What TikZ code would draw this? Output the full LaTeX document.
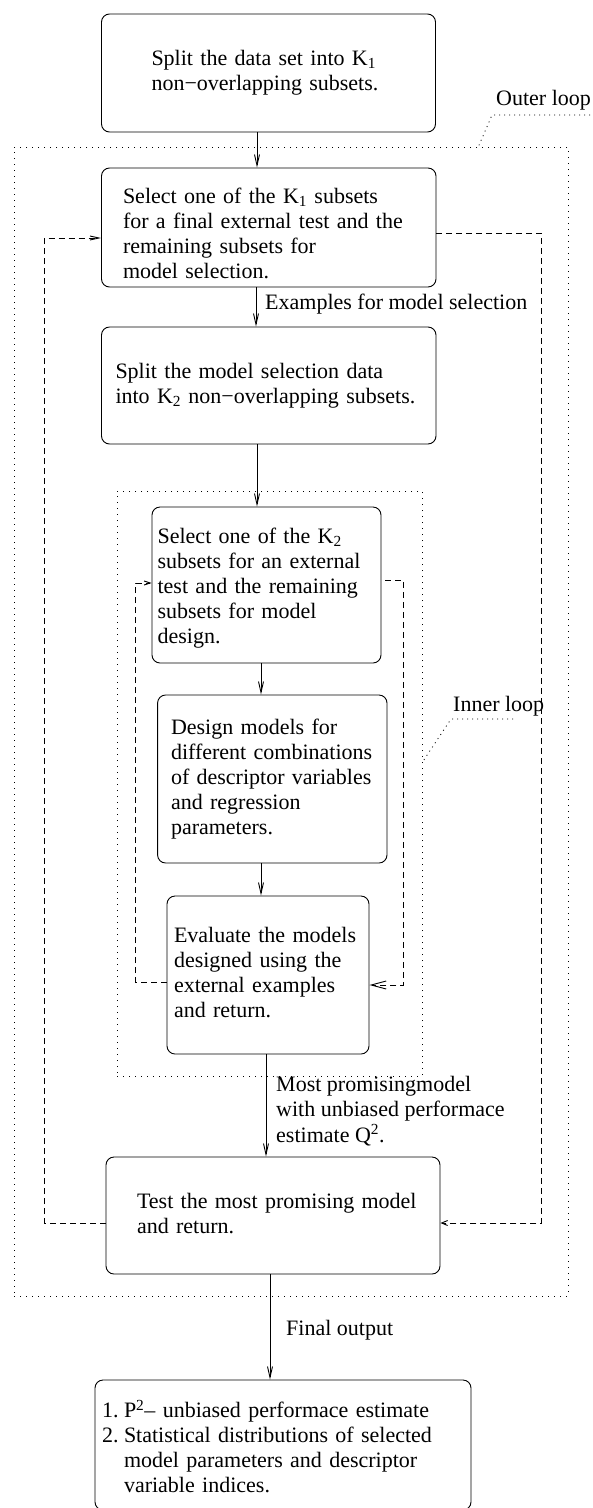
\documentclass[tikz,border=0pt]{standalone}
\usepackage{fontspec}
\setmainfont{Liberation Serif}
\usetikzlibrary{arrows.meta}
% left-aligned block of lines, optionally lowered inside its box without changing its size
\newcommand\boxlines[2][0pt]{\raisebox{-#1}[\height][\depth]{\begin{tabular}{@{}l@{}}#2\end{tabular}}}

\begin{document}
\begin{tikzpicture}[x=1pt,y=-1pt,
  every node/.style={font=\fontsize{22}{25}\selectfont},
  box/.style={draw, line width=0.9pt, rounded corners=8pt, inner sep=0pt, align=left},
  flow/.style={line width=0.9pt, -{Straight Barb[length=11pt,width=5pt]}},
  loopback/.style={line width=0.9pt, dash pattern=on 6pt off 4pt},
  frame/.style={draw, line width=0.9pt, dash pattern=on 1pt off 5pt, inner sep=0pt},
  leader/.style={line width=0.8pt, dash pattern=on 1pt off 4pt},
  lbl/.style={inner sep=0pt, align=left}]

\useasboundingbox (0,0) rectangle (593,1508);

% loop frames
\node[frame, minimum width=554pt, minimum height=1149pt] (outer) at (291,721.5) {};
\node[frame, minimum width=305pt, minimum height=585pt] (inner) at (269.5,783.5) {};

% process boxes
\node[box, minimum width=334pt, minimum height=118pt, text width=234pt] (split1) at (268.5,73)
  {\boxlines{Split the data set into K\textsubscript{1}\\non−overlapping subsets.}};
\node[box, minimum width=334.5pt, minimum height=119pt, text width=291.5pt] (sel1) at (268.75,227.5)
  {\boxlines[8pt]{Select one of the K\textsubscript{1} subsets\\for a final external test and the\\remaining subsets for\\model selection.}};
\node[box, minimum width=334.5pt, minimum height=117pt, text width=306.5pt] (split2) at (268.75,385.5)
  {\boxlines{Split the model selection data\\into K\textsubscript{2} non−overlapping subsets.}};
\node[box, minimum width=229pt, minimum height=156pt, text width=217.8pt] (sel2) at (266.5,585)
  {\boxlines[3pt]{Select one of the K\textsubscript{2}\\subsets for an external\\test and the remaining\\subsets for model\\design.}};
\node[box, minimum width=229.4pt, minimum height=168pt, text width=202.6pt] (design) at (272.3,779)
  {\boxlines{Design models for\\different combinations\\of descriptor variables\\and regression\\parameters.}};
\node[box, minimum width=202pt, minimum height=158pt, text width=188pt] (eval) at (268,975)
  {\boxlines{Evaluate the models\\designed using the\\external examples\\and return.}};
\node[box, minimum width=334pt, minimum height=117pt, text width=272pt] (test) at (273,1215.5)
  {\boxlines{Test the most promising model\\and return.}};
\node[box, minimum width=376pt, minimum height=130pt, text width=362pt] (result) at (283,1445)
  {\raisebox{-5pt}[\height][\depth]{\begin{tabular}{@{}l@{\hspace{5.5pt}}l@{}}1.& P\textsuperscript{2}– unbiased performace estimate\\
   2.& Statistical distributions of selected\\
     & model parameters and descriptor\\
     & variable indices.\end{tabular}}};

% main flow
\draw[flow] ([xshift=-11.5pt]split1.south) -- ([xshift=-11.5pt]split1.south |- sel1.north);
\draw[flow] ([xshift=-12.75pt]sel1.south) -- ([xshift=-12.75pt]sel1.south |- split2.north);
\draw[flow] ([xshift=-11.75pt]split2.south) -- ([xshift=-11.75pt]split2.south |- sel2.north);
\draw[flow] ([xshift=-5.5pt]sel2.south) -- ([xshift=-5.5pt]sel2.south |- design.north);
\draw[flow] ([xshift=-11.3pt]design.south) -- ([xshift=-11.3pt]design.south |- eval.north);
\draw[flow] ([xshift=-2pt]eval.south) -- ([xshift=-2pt]eval.south |- test.north);
\draw[flow] ([xshift=-3pt]test.south) -- ([xshift=-3pt]test.south |- result.north);

% arrow labels
\node[lbl, anchor=west] (exlbl) at (265,304) {Examples for model selection};
\node[lbl, anchor=west] (bestlbl) at (276,1112)
  {\boxlines{Most promisingmodel\\with unbiased performace\\estimate Q\textsuperscript{2}.}};
\node[lbl, anchor=west] (finallbl) at (286,1330) {Final output};

% outer loop return paths
\draw[loopback, -{Straight Barb[length=9pt,width=4pt]}]
  ([yshift=-7.5pt]test.west) -- ++(-61,0) |- ([yshift=-10.5pt]sel1.west);
\draw[loopback, -{Straight Barb[length=6pt,width=5pt]}]
  ([yshift=-5.5pt]sel1.east) -- ++(105,0) |- ([yshift=-7.5pt]test.east);

% inner loop return paths
\draw[loopback, -{Straight Barb[length=6pt,width=4pt]}]
  ([yshift=-7pt]eval.west) -- ++(-31,0) |- ([yshift=2pt]sel2.west);
\draw[loopback, dash phase=6pt, -{Straight Barb[length=15pt,width=8pt]}]
  ([yshift=5pt]sel2.east) -- ++(22,0) |- ([yshift=-10pt]eval.east);

% loop captions
\node[lbl, anchor=west] (outerlbl) at (496,100) {Outer loop};
\draw[leader] (590,115) -- (492,115) -- ([xshift=-90pt]outer.north east);
\node[lbl, anchor=west] (innerlbl) at (453,706) {Inner loop};
\draw[leader] (513,719) -- (451,719) -- ([yshift=21.5pt]inner.east);
\end{tikzpicture}
\end{document}
